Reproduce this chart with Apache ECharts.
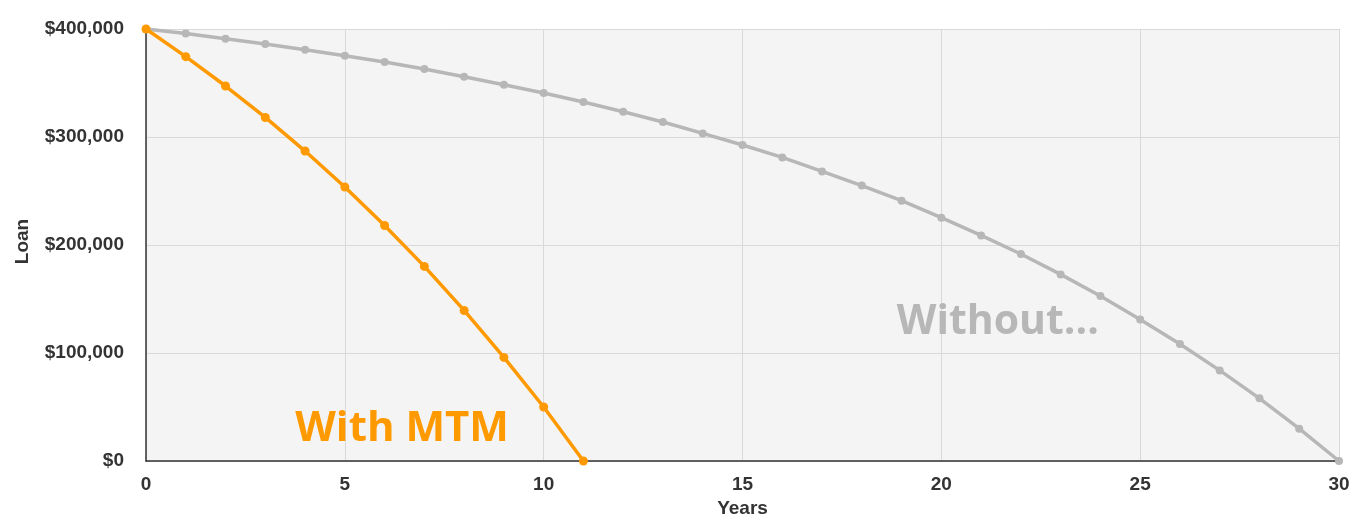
<!DOCTYPE html>
<html>
<head>
<meta charset="utf-8">
<script src="https://cdn.jsdelivr.net/npm/echarts@6/dist/echarts.min.js"></script>
<style>html,body{margin:0;padding:0;background:#fff}#c{width:1372px;height:530px}</style>
</head>
<body>
<div id="c"></div>
<script>
const years = Array.from({length: 31}, (_, i) => i);
const withMTM = [400000, 374400, 347200, 318100, 287000, 253700, 218100, 180200, 139400, 95900, 50000, 0];
const without = [400000, 395900, 391000, 386100, 380800, 375300, 369400, 363000, 355800, 348400, 340700,
  332400, 323400, 313900, 303300, 292600, 281100, 268100, 255000, 241000, 225300,
  208900, 191700, 172800, 152800, 131100, 108300, 83900, 58000, 29900, 0];
const yTicks = [0, 100000, 200000, 300000, 400000];
const labelWith = {text: 'With MTM', x: 6.44, y: 30000};
const labelWithout = {text: 'Without...', x: 21.42, y: 128000};

const chart = echarts.init(document.getElementById('c'), null, {renderer: 'canvas'});
const fmt = v => '$' + v.toLocaleString('en-US');
chart.setOption({
  animation: false,
  backgroundColor: '#ffffff',
  grid: {left: 146, right: 33, top: 29, bottom: 69, show: true, backgroundColor: '#f4f4f4', borderWidth: 0},
  xAxis: {
    type: 'value', min: 0, max: 30, interval: 5,
    name: 'Years', nameLocation: 'middle', nameGap: 37,
    nameTextStyle: {fontFamily: 'Liberation Sans', fontWeight: 'bold', fontSize: 19, color: '#333'},
    axisLine: {show: true, lineStyle: {color: '#333', width: 1.5}},
    axisTick: {show: false},
    axisLabel: {fontFamily: 'Liberation Sans', fontWeight: 'bold', fontSize: 19, color: '#333', margin: 14},
    splitLine: {show: true, lineStyle: {color: '#d9d9d9', width: 1}}
  },
  yAxis: {
    type: 'value', min: 0, max: 400000, interval: 100000,
    name: 'Loan', nameLocation: 'middle', nameGap: 114, nameRotate: 90,
    nameTextStyle: {fontFamily: 'Liberation Sans', fontWeight: 'bold', fontSize: 19, color: '#333', padding: [0, 0, 0, 7]},
    axisLine: {show: true, lineStyle: {color: '#333', width: 1.5}},
    axisTick: {show: false},
    axisLabel: {fontFamily: 'Liberation Sans', fontWeight: 'bold', fontSize: 19, color: '#333', margin: 22,
      padding: [4, 0, 0, 0],
      formatter: v => yTicks.includes(v) ? fmt(v) : ''},
    splitLine: {show: true, lineStyle: {color: '#d9d9d9', width: 1}}
  },
  series: [
    {
      name: 'Without', type: 'line', data: without.map((v, i) => [years[i], v]),
      lineStyle: {color: '#b7b7b7', width: 3.5}, itemStyle: {color: '#b7b7b7'},
      symbol: 'circle', symbolSize: 8, z: 2,
      markPoint: {
        symbol: 'circle', symbolSize: 0, silent: true,
        data: [{coord: [labelWithout.x, labelWithout.y], value: labelWithout.text}],
        label: {show: true, position: 'inside', formatter: labelWithout.text,
          fontFamily: 'Open Sans', fontWeight: 'bold', fontSize: 41, color: '#b7b7b7'}
      }
    },
    {
      name: 'With MTM', type: 'line', data: withMTM.map((v, i) => [years[i], v]),
      lineStyle: {color: '#ff9900', width: 3.5}, itemStyle: {color: '#ff9900'},
      symbol: 'circle', symbolSize: 9, z: 3,
      markPoint: {
        symbol: 'circle', symbolSize: 0, silent: true,
        data: [{coord: [labelWith.x, labelWith.y], value: labelWith.text}],
        label: {show: true, position: 'inside', formatter: labelWith.text,
          fontFamily: 'Open Sans', fontWeight: 'bold', fontSize: 42, color: '#ff9900'}
      }
    }
  ]
});
</script>
</body>
</html>
